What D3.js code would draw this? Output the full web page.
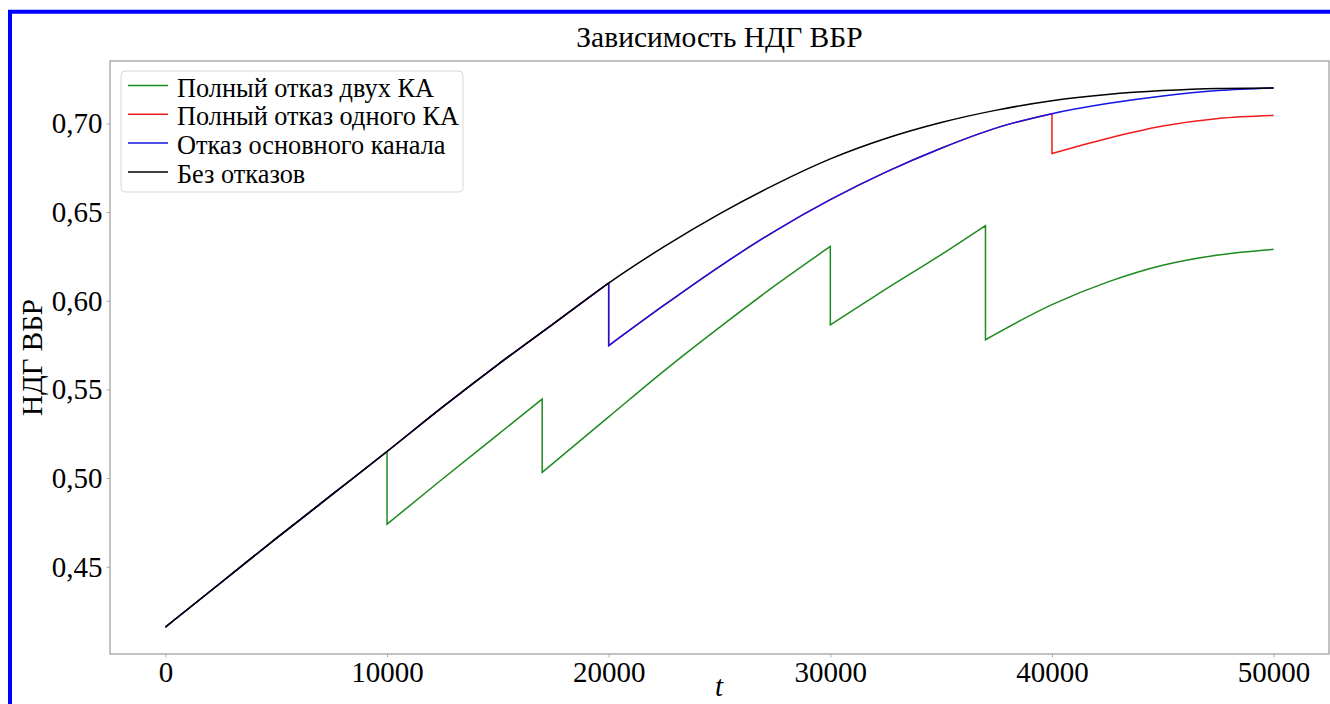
<!DOCTYPE html>
<html>
<head>
<meta charset="utf-8">
<script src="https://cdn.jsdelivr.net/npm/d3@7"></script>
<style>
  body { margin: 0; background: #fff; }
  svg text { font-family: "Times New Roman", "Liberation Serif", "DejaVu Serif", serif; fill: #000; }
</style>
</head>
<body>
<div id="chart"></div>
<script>
// Chart size and plot area
let w = 1330;
let h = 704;
let plotLeft = 110, plotRight = 1329, plotTop = 61, plotBottom = 654;
const serif = '"Times New Roman", "Liberation Serif", serif';

// Series names and colours (legend order = drawing order)
const seriesNames = ["Полный отказ двух КА", "Полный отказ одного КА", "Отказ основного канала", "Без отказов"];
const seriesColors = ["#1f8a1f", "#ee1c1c", "#1414e6", "#000000"];

// Без отказов
const tNoFail = [0, 2500, 5000, 7500, 10000, 12500, 15000, 17500, 20000, 22500, 25000,
                 27500, 30000, 32500, 35000, 37500, 40000, 42500, 45000, 47500, 50000];
const vNoFail = [0.416, 0.441, 0.466, 0.4905, 0.515, 0.540, 0.564, 0.587, 0.610, 0.6305, 0.649,
                 0.6655, 0.680, 0.6915, 0.7005, 0.7075, 0.7128, 0.7163, 0.7185, 0.7197, 0.720];

// Отказ основного канала (drop at 20000; repeated t means a jump)
const tMainFail = [0, 2500, 5000, 7500, 10000, 12500, 15000, 17500, 20000,
                   20000, 22500, 25000, 27500, 30000, 32500, 35000, 37500, 40000, 42500, 45000, 47500, 50000];
const vMainFail = [0.416, 0.441, 0.466, 0.4905, 0.515, 0.540, 0.564, 0.587, 0.610,
                   0.5747, 0.5975, 0.6193, 0.6393, 0.657, 0.6725, 0.686, 0.6975, 0.7055, 0.7112, 0.7155, 0.7185, 0.720];

// Полный отказ одного КА (drop at 40000)
const tOneFail = [0, 2500, 5000, 7500, 10000, 12500, 15000, 17500, 20000,
                  20000, 22500, 25000, 27500, 30000, 32500, 35000, 37500, 40000,
                  40000, 42500, 45000, 47500, 50000];
const vOneFail = [0.416, 0.441, 0.466, 0.4905, 0.515, 0.540, 0.564, 0.587, 0.610,
                  0.5747, 0.5975, 0.6193, 0.6393, 0.657, 0.6725, 0.686, 0.6975, 0.7055,
                  0.683, 0.6915, 0.6985, 0.7028, 0.7045];

// Полный отказ двух КА (drops at 10000, 17000, 30000, 37000)
const tTwoFail = [0, 2500, 5000, 7500, 10000,
                  10000, 12500, 15000, 17000,
                  17000, 20000, 22500, 25000, 27500, 30000,
                  30000, 32500, 35000, 37000,
                  37000, 40000, 42500, 45000, 47500, 50000];
const vTwoFail = [0.416, 0.441, 0.466, 0.4905, 0.515,
                  0.474, 0.4995, 0.5245, 0.5446,
                  0.5032, 0.5345, 0.5605, 0.585, 0.6085, 0.6306,
                  0.5864, 0.6065, 0.626, 0.6424,
                  0.578, 0.5978, 0.6105, 0.620, 0.6258, 0.629];

// Axis ticks
const xTicks = [0, 10000, 20000, 30000, 40000, 50000];
const yTicks = [0.45, 0.50, 0.55, 0.60, 0.65, 0.70];

const seriesT = [tTwoFail, tOneFail, tMainFail, tNoFail];
const seriesV = [vTwoFail, vOneFail, vMainFail, vNoFail];

const svg = d3.select("#chart")
  .append("svg")
  .attr("width", w)
  .attr("height", h);

// Blue frame around the picture (top and left edges)
svg.append("line").attr("x1", 8).attr("x2", w).attr("y1", 11.7).attr("y2", 11.7)
  .attr("stroke", "#0000ff").attr("stroke-width", 4);
svg.append("line").attr("x1", 10).attr("x2", 10).attr("y1", 10).attr("y2", h)
  .attr("stroke", "#0000ff").attr("stroke-width", 4);

const xScale = d3.scaleLinear().domain([-2500, 52500]).range([plotLeft, plotRight]);
const yScale = d3.scaleLinear().domain([0.4008, 0.7352]).range([plotBottom, plotTop]);

// Axes
const xAxis = d3.axisBottom(xScale).tickValues(xTicks).tickSize(3.5).tickPadding(4)
  .tickFormat(d3.format("d"));
const yAxis = d3.axisLeft(yScale).tickValues(yTicks).tickSize(3.5).tickPadding(4)
  .tickFormat(d => d3.format(".2f")(d).replace(".", ","));

const gx = svg.append("g").attr("transform", "translate(0," + plotBottom + ")").call(xAxis);
const gy = svg.append("g").attr("transform", "translate(" + plotLeft + ",0)").call(yAxis);
[gx, gy].forEach(g => {
  g.attr("font-family", serif);
  g.select(".domain").remove();
  g.selectAll(".tick line").attr("stroke", "#999").attr("stroke-width", 0.8);
  g.selectAll(".tick text").style("font-family", serif).style("font-size", "29px").attr("fill", "#000");
});

// Frame of the plot area
svg.append("rect")
  .attr("x", plotLeft).attr("y", plotTop)
  .attr("width", plotRight - plotLeft).attr("height", plotBottom - plotTop)
  .attr("fill", "none").attr("stroke", "#999").attr("stroke-width", 1.2);

// Lines: each series is split into pieces where t repeats (a sudden drop)
const line = d3.line()
  .x(d => xScale(d[0]))
  .y(d => yScale(d[1]))
  .curve(d3.curveMonotoneX);

function buildPath(ts, vs) {
  let pieces = [];
  let cur = [];
  ts.forEach((t, i) => {
    if (i > 0 && t === ts[i - 1]) {
      pieces.push(cur);
      cur = [];
    }
    cur.push([t, vs[i]]);
  });
  pieces.push(cur);
  return pieces.map((p, i) => {
    const d = line(p);
    return i === 0 ? d : "L" + d.slice(1);
  }).join("");
}

seriesNames.forEach((name, i) => {
  svg.append("path")
    .attr("d", buildPath(seriesT[i], seriesV[i]))
    .attr("fill", "none")
    .attr("stroke", seriesColors[i])
    .attr("stroke-width", 1.5);
});

// Title and axis labels
svg.append("text")
  .attr("x", (plotLeft + plotRight) / 2)
  .attr("y", 47)
  .style("text-anchor", "middle")
  .style("font-family", serif)
  .style("font-size", "29.5px")
  .text("Зависимость НДГ ВБР");

svg.append("text")
  .attr("x", 719)
  .attr("y", 696)
  .style("text-anchor", "middle")
  .style("font-family", serif)
  .style("font-size", "29px")
  .style("font-style", "italic")
  .text("t");

svg.append("text")
  .attr("transform", "translate(42," + ((plotTop + plotBottom) / 2) + ") rotate(-90)")
  .style("text-anchor", "middle")
  .style("font-family", serif)
  .style("font-size", "29px")
  .text("НДГ ВБР");

// Legend
const legend = svg.append("g").attr("id", "legend");
legend.append("rect")
  .attr("x", 121).attr("y", 71)
  .attr("width", 342).attr("height", 121)
  .attr("rx", 4)
  .attr("fill", "#fff")
  .attr("fill-opacity", 0.8)
  .attr("stroke", "#d6d6d6");

seriesNames.forEach((name, i) => {
  const y = 85.5 + i * 28.8;
  legend.append("line")
    .attr("x1", 128).attr("x2", 168)
    .attr("y1", y).attr("y2", y)
    .attr("stroke", seriesColors[i])
    .attr("stroke-width", 1.5);
  legend.append("text")
    .attr("x", 177)
    .attr("y", y + 11)
    .style("font-family", serif)
    .style("font-size", "26.3px")
    .text(name);
});
</script>
</body>
</html>
